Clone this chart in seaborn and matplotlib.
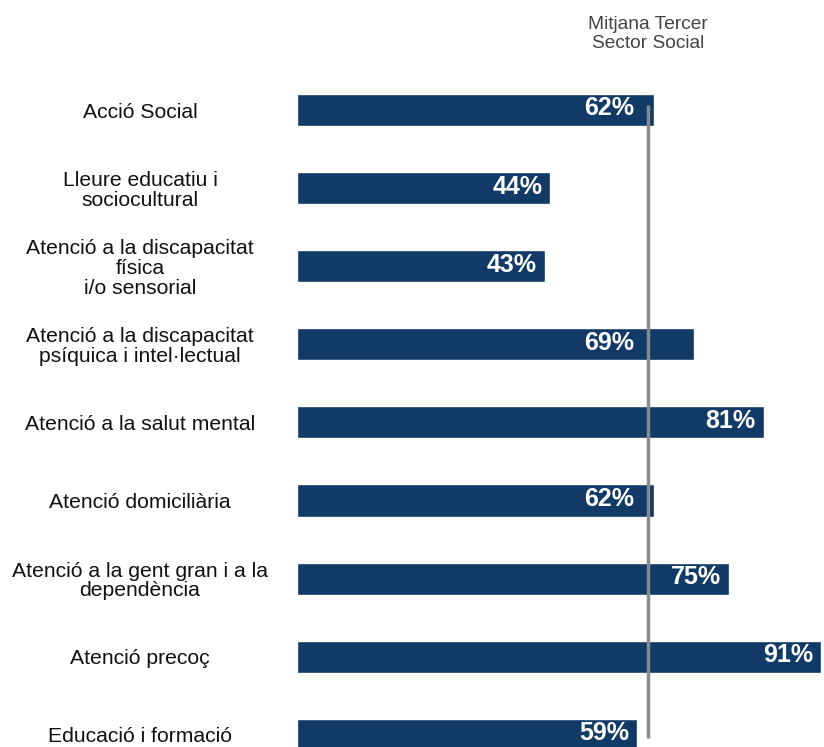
import pandas as pd
import matplotlib
matplotlib.use("Agg")
import matplotlib.pyplot as plt
import seaborn as sns

categories = ["Acció Social",
              "Lleure educatiu i\nsociocultural",
              "Atenció a la discapacitat\nfísica\ni/o sensorial",
              "Atenció a la discapacitat\npsíquica i intel·lectual",
              "Atenció a la salut mental",
              "Atenció domiciliària",
              "Atenció a la gent gran i a la\ndependència",
              "Atenció precoç",
              "Educació i formació"]
values = [62, 44, 43, 69, 81, 62, 75, 91, 59]
mean_value = 61
mean_label = "Mitjana Tercer\nSector Social"

df = pd.DataFrame({"category": categories, "value": values})

sns.set_style("white")
plt.rcParams["font.family"] = ["Liberation Sans", "DejaVu Sans"]

fig = plt.figure(figsize=(8.24, 7.47), dpi=100)
# axes start at the bar baseline, fill full height
ax = fig.add_axes([297 / 824, 0, (824 - 297) / 824, 1])

navy = "#113a66"
sns.barplot(data=df, x="value", y="category", orient="h",
            color=navy, width=0.41, saturation=1, ax=ax)

# pixel layout: first bar centre at 110 px, 78.1 px between bars
px = 78.1
ax.set_ylim((747 - 110) / px, -110 / px)
ax.set_xlim(0, 91.5)
unit = (824 - 297) / 91.5  # px per percent

# value labels inside bars, kept clear of the mean line
label_w = 52 / unit
for i, v in enumerate(values):
    right = v - 8 / unit
    if right - label_w - 4 / unit < mean_value < right + 10 / unit:
        right = mean_value - 14 / unit
    ax.text(right, i - 0.02, f"{v}%", ha="right", va="center",
            color="white", fontsize=18, fontweight="bold")

# mean line
ax.plot([mean_value, mean_value], [-5 / px, (738 - 110) / px],
        color="#8a8a8a", lw=2.5, zorder=5, solid_capstyle="butt")
ax.text(mean_value, (34 - 110) / px, mean_label, ha="center", va="center",
        color="#444444", fontsize=13.8, linespacing=1.15)

ax.set_xlabel("")
ax.set_ylabel("")
ax.set_xticks([])
ax.tick_params(axis="y", length=0, pad=113, labelsize=15.2)
plt.setp(ax.get_yticklabels(), ha="center", multialignment="center",
         color="#111111", linespacing=1.05)
sns.despine(ax=ax, left=True, bottom=True)

fig.savefig("out.png", dpi=100, facecolor="white")
